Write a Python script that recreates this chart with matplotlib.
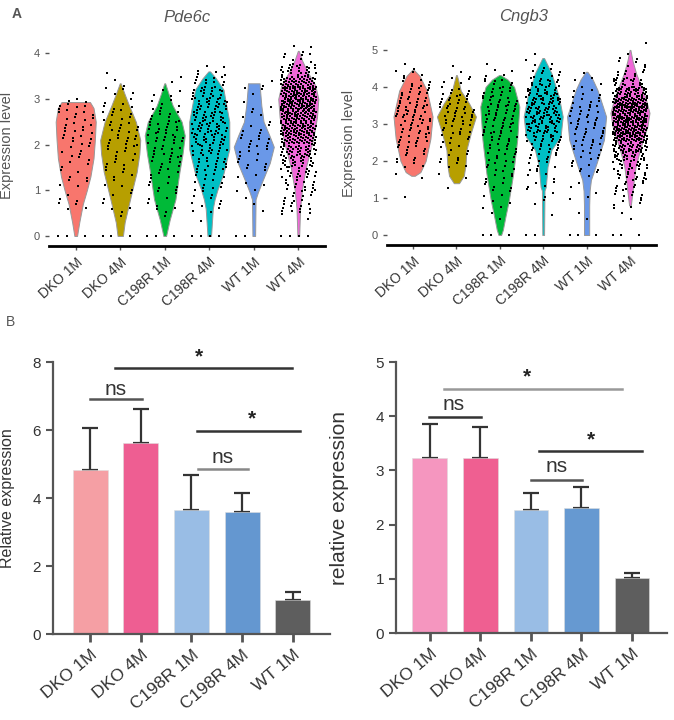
import numpy as np
import matplotlib.pyplot as plt

plt.rcParams['font.family'] = ['Liberation Sans', 'DejaVu Sans']

groups6 = ["DKO 1M", "DKO 4M", "C198R 1M", "C198R 4M", "WT 1M", "WT 4M"]
groups5 = groups6[:5]
hue = ["#F8766D", "#B79F00", "#00BA38", "#00BFC4", "#6A98E8", "#F068D8"]

# Pde6c violins: expression levels and half widths
pde_vy = [
    [0, 0.3, 0.7, 1.0, 1.3, 1.7, 2.1, 2.5, 2.8, 2.93, 2.93],
    [0, 0.3, 0.8, 1.4, 1.8, 2.1, 2.5, 2.85, 3.1, 3.34],
    [0, 0.35, 0.8, 1.4, 1.8, 2.2, 2.5, 2.85, 3.1, 3.34],
    [0, 0.6, 0.8, 1.0, 1.37, 1.9, 2.5, 3.2, 3.45, 3.6],
    [0, 0.8, 0.95, 1.22, 1.6, 1.95, 2.2, 2.5, 2.85, 3.2, 3.34, 3.34],
    [0, 0.6, 1.0, 1.5, 2.1, 2.6, 3.0, 3.3, 3.6, 3.85, 4.05],
]
pde_vw = [
    [0.03, 0.08, 0.16, 0.25, 0.33, 0.40, 0.43, 0.45, 0.40, 0.32, 0.0],
    [0.06, 0.10, 0.22, 0.37, 0.43, 0.45, 0.35, 0.20, 0.10, 0.01],
    [0.03, 0.11, 0.24, 0.33, 0.40, 0.45, 0.38, 0.18, 0.09, 0.01],
    [0.04, 0.08, 0.12, 0.18, 0.32, 0.45, 0.45, 0.32, 0.15, 0.02],
    [0.03, 0.04, 0.09, 0.20, 0.36, 0.45, 0.35, 0.22, 0.17, 0.14, 0.13, 0.0],
    [0.02, 0.04, 0.08, 0.17, 0.33, 0.42, 0.45, 0.38, 0.20, 0.08, 0.01],
]
# cells per 0.25 expression bin (bin 0 = zero)
pde_counts = [
    [3, 0, 4, 3, 4, 4, 5, 6, 8, 9, 9, 8, 0, 0, 0, 0, 0],
    [3, 1, 4, 3, 4, 5, 6, 8, 10, 10, 8, 6, 4, 2, 1, 0, 0],
    [3, 1, 5, 4, 6, 7, 9, 11, 14, 12, 9, 6, 4, 2, 0, 0, 0],
    [4, 1, 6, 5, 8, 10, 14, 18, 22, 24, 24, 22, 18, 12, 6, 0, 0],
    [2, 0, 2, 2, 3, 4, 6, 8, 8, 5, 4, 3, 3, 2, 0, 0, 0],
    [5, 2, 12, 10, 14, 18, 26, 36, 50, 60, 70, 80, 70, 50, 25, 8, 3],
]

# Cngb3 violins
cng_vy = [
    [1.6, 1.7, 2.0, 2.6, 3.2, 3.9, 4.3, 4.46],
    [1.4, 1.6, 1.9, 2.3, 2.75, 3.2, 3.56, 3.9, 4.1, 4.32],
    [0, 0.14, 0.5, 0.95, 1.67, 2.57, 3.47, 4.0, 4.2, 4.32],
    [0, 1.2, 1.3, 1.85, 2.3, 2.66, 3.2, 3.74, 4.37, 4.78],
    [0, 0.8, 1.2, 1.49, 1.94, 2.57, 3.2, 3.92, 4.2, 4.41],
    [0.8, 1.1, 1.4, 1.85, 2.3, 2.93, 3.3, 3.7, 4.37, 4.7, 5.0],
]
cng_vw = [
    [0.04, 0.17, 0.29, 0.40, 0.45, 0.32, 0.15, 0.02],
    [0.06, 0.17, 0.21, 0.23, 0.33, 0.45, 0.29, 0.10, 0.06, 0.01],
    [0.03, 0.07, 0.13, 0.21, 0.31, 0.40, 0.45, 0.33, 0.18, 0.02],
    [0.02, 0.03, 0.06, 0.10, 0.19, 0.40, 0.45, 0.36, 0.19, 0.02],
    [0.06, 0.06, 0.07, 0.10, 0.23, 0.40, 0.45, 0.25, 0.14, 0.02],
    [0.02, 0.05, 0.08, 0.13, 0.23, 0.40, 0.45, 0.36, 0.14, 0.06, 0.01],
]
cng_counts = [
    [0, 0, 0, 0, 1, 0, 2, 4, 6, 8, 10, 12, 14, 14, 12, 10, 8, 5, 1, 0, 0],
    [0, 0, 0, 0, 0, 1, 2, 4, 5, 5, 6, 8, 11, 13, 12, 8, 4, 2, 1, 0, 0],
    [3, 1, 2, 3, 4, 5, 6, 7, 8, 9, 10, 11, 12, 12, 12, 10, 8, 4, 1, 0, 0],
    [2, 0, 1, 2, 3, 4, 4, 6, 8, 12, 18, 22, 26, 28, 26, 20, 14, 8, 4, 1, 0],
    [3, 1, 1, 1, 2, 2, 3, 5, 6, 8, 9, 10, 10, 9, 7, 5, 3, 1, 0, 0, 0],
    [3, 1, 2, 5, 8, 10, 14, 18, 26, 36, 50, 60, 70, 70, 56, 36, 20, 10, 6, 2, 1],
]

# qPCR panel B
pde_mean = [4.82, 5.63, 3.65, 3.60, 1.00]
pde_err = [1.24, 0.99, 1.03, 0.54, 0.24]
cng_mean = [3.23, 3.23, 2.27, 2.30, 1.02]
cng_err = [0.62, 0.58, 0.31, 0.40, 0.08]
bar_cols_l = ["#F59FA4", "#EE5E92", "#99BDE5", "#6497D0", "#5E5E5E"]
bar_cols_r = ["#F596BF", "#EF5F91", "#99BDE5", "#6699D1", "#5E5E5E"]


def violin_panel(ax, vy, vw, counts, ylim, yticks):
    for i in range(6):
        c = i + 1
        y = np.array(vy[i])
        w = np.array(vw[i])
        ax.fill_betweenx(y, c - w, c + w, facecolor=hue[i], edgecolor='#999999',
                         linewidth=0.7, zorder=1)
        xs, ys = [], []
        k = 0
        for b, n in enumerate(counts[i]):
            for j in range(n):
                k += 1
                xs.append(c + 0.8 * ((0.5 + k * 0.7548777) % 1 - 0.5))
                ys.append(0.0 if b == 0 else 0.25 * b + 0.25 * ((0.5 + k * 0.5698403) % 1))
        ax.scatter(xs, ys, s=4.5, marker='s', color='black', linewidths=0, zorder=2)
    ax.set_xlim(0.4, 6.6)
    ax.set_ylim(*ylim)
    ax.set_yticks(yticks)
    ax.set_xticks(range(1, 7))
    ax.set_xticklabels(groups6, rotation=42, ha='right', rotation_mode='anchor',
                       fontsize=10, color='#333333')
    for s in ['top', 'right', 'left']:
        ax.spines[s].set_visible(False)
    ax.spines['bottom'].set_linewidth(2)
    ax.tick_params(axis='y', length=3, width=1, colors='#555555', labelsize=8)
    ax.tick_params(axis='x', length=3, width=1, colors='#555555', labelcolor='#333333')


def bar_panel(ax, means, errs, cols, ymax, sigs):
    x = np.arange(5)
    ax.bar(x, means, width=0.69, color=cols, edgecolor='#dddddd', linewidth=0.4, zorder=2)
    ax.errorbar(x, means, yerr=[np.zeros(5), errs], fmt='none', ecolor='#333333',
                elinewidth=1.6, capsize=6, capthick=1.6, zorder=1)
    for x0, x1, y, txt, tx, ty, col in sigs:
        ax.plot([x0, x1], [y, y], color=col, lw=1.8, clip_on=False, zorder=3)
        if txt == 'ns':
            ax.text(tx, ty, txt, ha='center', va='center', fontsize=15, color='#333333')
        else:
            ax.text(tx, ty, txt, ha='center', va='center', fontsize=15,
                    fontweight='bold', color='#222222')
    ax.set_ylim(0, ymax)
    ax.set_xticks(x)
    ax.set_xticklabels(groups5, rotation=40, ha='right', rotation_mode='anchor',
                       fontsize=12.5, color='#333333')
    for s in ['top', 'right']:
        ax.spines[s].set_visible(False)
    for s in ['left', 'bottom']:
        ax.spines[s].set_linewidth(1.6)
        ax.spines[s].set_color('#555555')
    ax.tick_params(axis='y', length=5, width=1.5, colors='#555555', labelsize=11,
                   labelcolor='#333333')
    ax.tick_params(axis='x', length=6, width=2, colors='#555555', labelcolor='#333333')


fig = plt.figure(figsize=(6.74, 7.2), dpi=100)

ax1 = fig.add_axes([0.0727, 0.6583, 0.4095, 0.2806])
violin_panel(ax1, pde_vy, pde_vw, pde_counts, (-0.22, 4.2), [0, 1, 2, 3, 4])
ax1.set_ylabel("Expression level", fontsize=10.5, color='#555555')
ax1.yaxis.set_label_coords(-0.125, 0.5)

ax2 = fig.add_axes([0.5742, 0.6597, 0.3991, 0.2833])
violin_panel(ax2, cng_vy, cng_vw, cng_counts, (-0.27, 5.24), [0, 1, 2, 3, 4, 5])
ax2.set_ylabel("Expression level", fontsize=10.5, color='#555555')
ax2.yaxis.set_label_coords(-0.115, 0.5)

fig.text(187 / 674, 1 - 17 / 720, "Pde6c", ha='center', va='center', fontsize=12,
         style='italic', color='#555555')
fig.text(524 / 674, 1 - 17 / 720, "Cngb3", ha='center', va='center', fontsize=12,
         style='italic', color='#555555')
fig.text(12 / 674, 1 - 14 / 720, "A", ha='left', va='center', fontsize=10,
         fontweight='bold', color='#555555')
fig.text(6 / 674, 1 - 322 / 720, "B", ha='left', va='center', fontsize=10,
         color='#555555')

ax3 = fig.add_axes([0.0786, 0.1194, 0.411, 0.3778])
ax3.set_xlim(-0.73, 4.73)
bar_panel(ax3, pde_mean, pde_err, bar_cols_l, 8, [
    (0.49, 3.98, 7.82, '*', 2.15, 8.15, '#333333'),
    (0.0, 1.03, 6.9, 'ns', 0.5, 7.2, '#555555'),
    (2.11, 4.14, 5.97, '*', 3.2, 6.32, '#333333'),
    (2.13, 3.12, 4.85, 'ns', 2.62, 5.2, '#888888'),
])
ax3.set_yticks([0, 2, 4, 6, 8])
ax3.set_ylabel("Relative expression", fontsize=11.5, color='#333333')
ax3.yaxis.set_label_coords(-0.138, 0.5)

ax4 = fig.add_axes([0.5875, 0.1208, 0.402, 0.3764])
ax4.set_xlim(-0.67, 4.69)
bar_panel(ax4, cng_mean, cng_err, bar_cols_r, 5, [
    (0.28, 3.8, 4.51, '*', 1.92, 4.72, '#999999'),
    (-0.02, 1.01, 3.99, 'ns', 0.47, 4.22, '#333333'),
    (2.16, 4.2, 3.36, '*', 3.19, 3.56, '#333333'),
    (2.0, 3.01, 2.82, 'ns', 2.5, 3.08, '#555555'),
])
ax4.set_yticks([0, 1, 2, 3, 4, 5])
ax4.set_ylabel("relative expression", fontsize=15, color='#333333')
ax4.yaxis.set_label_coords(-0.173, 0.5)

fig.savefig("out.png", dpi=100)
